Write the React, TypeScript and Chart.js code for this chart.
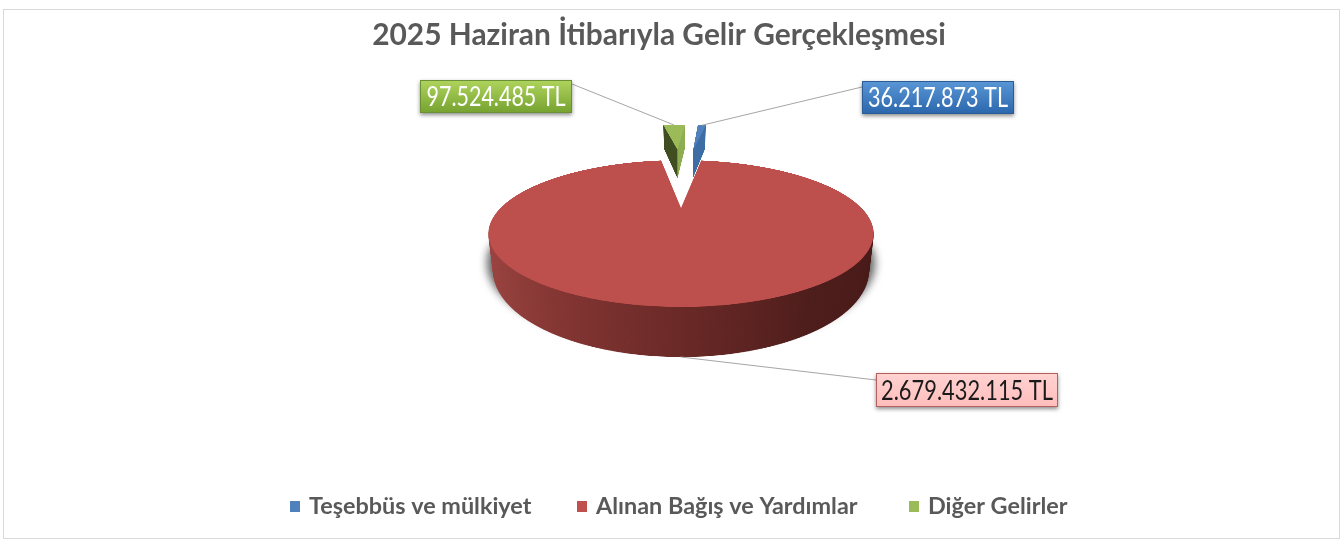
import React, { useEffect, useRef } from "react";
import { Chart, registerables } from "chart.js";

Chart.register(...registerables);

const titleText = "2025 Haziran İtibarıyla Gelir Gerçekleşmesi";
const categories = ["Teşebbüs ve mülkiyet", "Alınan Bağış ve Yardımlar", "Diğer Gelirler"];
const values = [36217873, 2679432115, 97524485];
const sliceColors = ["#4F81BD", "#BD4F4D", "#9BBB59"];
const legendColors = ["#4F81BD", "#C0504D", "#9BBB59"];

const FONT = "Lato, 'Open Sans', sans-serif";
const W = 1344;
const H = 551;

// perspective of the tilted pie: t is -1 at the back of the disc and +1 at the front
const PIE = { cx: 681, y0: 208, b: 64.6, k: 0.347, R: 181, depth: 32.7 };
const explode = [1.32, 0, 1.32];
const nudge = [-17, 0, 8];
const wallDepth = [1.28, 1, 1.28];
const S = 362;
const OFF_W = 1200;
const OFF_H = Math.ceil(S * 3.9);
const OFF_CY = S * 2.75;

const project = (u: number, t: number, h: number) => {
    const s = 1 / (1 - PIE.k * t);
    return { x: PIE.cx + u * PIE.R * s, y: PIE.y0 + (PIE.b * t + h) * s };
};

const blit = (target: any, img: any, h: number, tMin: number, tMax: number, shrink = 1 - 0.00075 * h) => {
    const yA = project(0, tMin, h).y;
    const yB = project(0, tMax, h).y;
    for (let y = Math.floor(yA); y < yB; y += 1) {
        const t1 = (y - PIE.y0 - h) / (PIE.b + PIE.k * (y - PIE.y0));
        const t2 = (y + 1 - PIE.y0 - h) / (PIE.b + PIE.k * (y + 1 - PIE.y0));
        const s = 1 / (1 - PIE.k * t1);
        const scale = (PIE.R / S) * s * shrink;
        target.drawImage(
            img,
            0,
            OFF_CY + t1 * S,
            OFF_W,
            Math.max((t2 - t1) * S, 0.5),
            PIE.cx - (OFF_W / 2) * scale,
            y,
            OFF_W * scale,
            1
        );
    }
};

const labelBoxes = [
    { x: 862, y: 81, w: 152, h: 33, top: "#5A97D6", bottom: "#2B66AC", edge: "#2B5C96", text: "#FFFFFF", fit: 140, lineY: 87, to: "left" },
    { x: 876, y: 373, w: 182, h: 34, top: "#FFD3D2", bottom: "#FFBDBB", edge: "#B5605D", text: "#1A1A1A", fit: 172, lineY: 380, to: "left" },
    { x: 420, y: 80, w: 152, h: 33, top: "#AFD45E", bottom: "#76A22F", edge: "#6B8F35", text: "#FFFFFF", fit: 139, lineY: 84, to: "right" },
];
const legendX = [290, 577, 909];

const fmt = (v: number) => v.toLocaleString("tr-TR") + " TL";

const pie3d = {
    id: "pie3d",
    beforeDraw(chart: any) {
        const ctx = chart.ctx;
        ctx.save();
        ctx.fillStyle = "#FFFFFF";
        ctx.fillRect(0, 0, W, H);
        ctx.strokeStyle = "#D9D9D9";
        ctx.lineWidth = 1;
        ctx.strokeRect(3.5, 9.5, 1336, 529);
        ctx.restore();
    },
    beforeDatasetDraw() {
        return false;
    },
    afterDatasetsDraw(chart: any) {
        const ctx = chart.ctx;
        const arcs = chart.getDatasetMeta(0).data;
        const rs = arcs[0].outerRadius;
        const unit = S / rs;
        const mids = arcs.map((a: any) => (a.startAngle + a.endAngle) / 2);

        const makeLayer = (i: number) => {
            const c = document.createElement("canvas");
            c.width = OFF_W;
            c.height = OFF_H;
            const o = c.getContext("2d") as CanvasRenderingContext2D;
            const a = arcs[i];
            o.setTransform(unit, 0, 0, unit, 0, 0);
            o.translate(
                OFF_W / 2 / unit - a.x + Math.cos(mids[i]) * explode[i] * rs + nudge[i] / unit,
                OFF_CY / unit - a.y + Math.sin(mids[i]) * explode[i] * rs
            );
            a.draw(o);
            o.setTransform(1, 0, 0, 1, 0, 0);
            return { c, o };
        };
        const tops = arcs.map((_: any, i: number) => makeLayer(i).c);
        const apexX = (i: number) => OFF_W / 2 + Math.cos(mids[i]) * explode[i] * S + nudge[i];

        const wall = (i: number) => {
            const { c, o } = makeLayer(i);
            o.globalCompositeOperation = "source-atop";
            if (i === 1) {
                const g = o.createLinearGradient(OFF_W / 2 - S, 0, OFF_W / 2 + S, 0);
                g.addColorStop(0, "#A34A48");
                g.addColorStop(0.25, "#863835");
                g.addColorStop(0.5, "#6B2A28");
                g.addColorStop(0.75, "#4F1F1D");
                g.addColorStop(1, "#4A1C1B");
                o.fillStyle = g;
                o.fillRect(0, 0, OFF_W, OFF_H);
            } else {
                const x = apexX(i);
                o.fillStyle = i === 0 ? "#3F6EA5" : "#8FAE52";
                o.fillRect(0, 0, OFF_W, OFF_H);
                o.fillStyle = i === 0 ? "#386396" : "#414F22";
                o.fillRect(0, 0, x, OFF_H);
            }
            return c;
        };

        // soft shadow under the base, cut off flat at the bottom as in the reference
        const sh = document.createElement("canvas");
        sh.width = W;
        sh.height = H;
        const sc = sh.getContext("2d") as CanvasRenderingContext2D;
        const shadowLayer = makeLayer(1);
        shadowLayer.o.globalCompositeOperation = "source-atop";
        shadowLayer.o.fillStyle = "#4A4A4A";
        shadowLayer.o.fillRect(0, 0, OFF_W, OFF_H);
        blit(sc, shadowLayer.c, PIE.depth * 0.8, 0.15, 1.05, 1.008);
        ctx.save();
        ctx.beginPath();
        ctx.rect(0, 0, W, 354);
        ctx.clip();
        ctx.filter = "blur(4px)";
        ctx.globalAlpha = 0.85;
        ctx.drawImage(sh, 0, 0);
        ctx.restore();

        const ranges = [
            [-2.7, -1.0],
            [-1.05, 1.05],
            [-2.7, -1.0],
        ];
        const pie = document.createElement("canvas");
        pie.width = W;
        pie.height = H;
        const pc = pie.getContext("2d") as CanvasRenderingContext2D;
        [1, 2, 0].forEach((i) => {
            const side = wall(i);
            const [a, b] = ranges[i];
            for (let h = PIE.depth * wallDepth[i]; h > 0; h -= 0.6) {
                blit(pc, side, h, i === 1 ? 0 : a, b);
            }
            blit(pc, tops[i], 0, a, b);
        });
        ctx.save();
        ctx.filter = "blur(0.6px)";
        ctx.drawImage(pie, 0, 0);
        ctx.restore();

        // labels with leader lines
        ctx.save();
        labelBoxes.forEach((box, i) => {
            const u = Math.cos(mids[i]);
            const v = Math.sin(mids[i]);
            const tx = explode[i] + 1;
            const p = i === 1 ? project(u, v, PIE.depth) : project(u * tx + nudge[i] / S, v * tx, 0);
            const ex = box.to === "left" ? box.x : box.x + box.w;
            ctx.strokeStyle = "#A6A6A6";
            ctx.lineWidth = 1;
            ctx.beginPath();
            ctx.moveTo(p.x, p.y);
            ctx.lineTo(ex, box.lineY);
            ctx.stroke();

            ctx.save();
            ctx.shadowColor = "rgba(0,0,0,0.45)";
            ctx.shadowBlur = 4;
            ctx.shadowOffsetY = 2;
            const g = ctx.createLinearGradient(0, box.y, 0, box.y + box.h);
            g.addColorStop(0, box.top);
            g.addColorStop(1, box.bottom);
            ctx.fillStyle = g;
            ctx.fillRect(box.x, box.y, box.w, box.h);
            ctx.restore();
            ctx.strokeStyle = box.edge;
            ctx.strokeRect(box.x + 0.5, box.y + 0.5, box.w - 1, box.h - 1);

            ctx.fillStyle = box.text;
            ctx.font = `27px ${FONT}`;
            ctx.textAlign = "center";
            ctx.textBaseline = "middle";
            ctx.fillText(fmt(values[i]), box.x + box.w / 2, box.y + box.h / 2 + 1, box.fit);
        });
        ctx.restore();

        // legend
        ctx.save();
        ctx.font = `bold 23.4px ${FONT}`;
        ctx.textBaseline = "middle";
        ctx.textAlign = "left";
        categories.forEach((name, i) => {
            ctx.fillStyle = legendColors[i];
            ctx.fillRect(legendX[i], 501, 10, 11);
            ctx.fillStyle = "#595959";
            ctx.fillText(name, legendX[i] + 19, 506);
        });
        ctx.restore();
    },
};

const App: React.FC = () => {
    const chartRef = useRef<HTMLCanvasElement | null>(null);

    useEffect(() => {
        if (!chartRef.current) return;

        const chart = new Chart(chartRef.current, {
            type: "pie",
            data: {
                labels: categories,
                datasets: [
                    {
                        data: values,
                        backgroundColor: sliceColors,
                        borderWidth: 0,
                    },
                ],
            },
            options: {
                responsive: false,
                animation: false,
                rotation: 4,
                layout: { padding: { top: 9, right: 26 } },
                plugins: {
                    legend: { display: false },
                    tooltip: { enabled: false },
                    title: {
                        display: true,
                        text: titleText,
                        color: "#595959",
                        font: { family: FONT, size: 29.9, weight: "bold" },
                        padding: { top: 8, bottom: 10 },
                    },
                },
            },
            plugins: [pie3d],
        });

        return () => {
            chart.destroy();
        };
    }, []);

    return (
        <div style={{ position: "absolute", left: 0, top: 0, width: W, height: H }}>
            <canvas ref={chartRef} width={W} height={H} style={{ display: "block" }}></canvas>
        </div>
    );
};

export default App;
